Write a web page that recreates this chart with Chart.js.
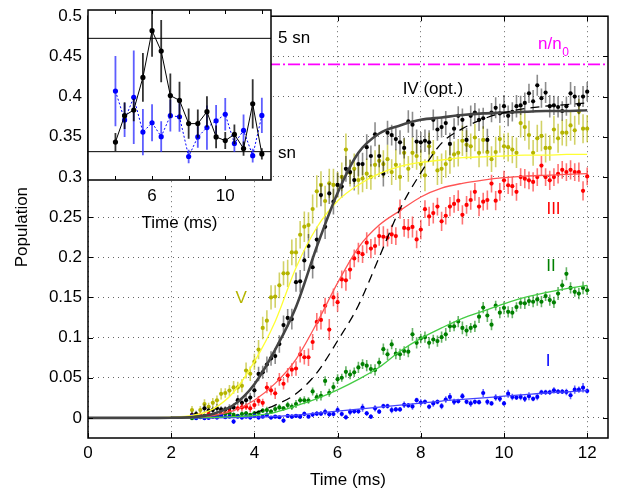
<!DOCTYPE html>
<html>
<head>
<meta charset="utf-8">
<script src="https://cdn.jsdelivr.net/npm/chart.js@4.4.1/dist/chart.umd.min.js"></script>
<style>
  html, body { margin: 0; padding: 0; background: #fff; }
  #wrap { position: relative; width: 628px; height: 492px; }
  #main { position: absolute; left: 0; top: 0; }
  #inset { position: absolute; left: 0; top: 0; pointer-events: none; }
</style>
</head>
<body>
<div id="wrap">
  <canvas id="main" width="628" height="492"></canvas>
  <canvas id="inset" width="340" height="240"></canvas>
</div>
<script>
// ---------- sampling times (ms) ----------
const times = [
  2.5,2.6,2.7,2.8,2.9,3.0,3.1,3.2,3.3,3.4,
  3.5,3.6,3.7,3.8,3.9,4.0,4.1,4.2,4.3,4.4,
  4.5,4.6,4.7,4.8,4.9,5.0,5.1,5.2,5.3,5.4,
  5.5,5.6,5.7,5.8,5.9,6.0,6.1,6.2,6.3,6.4,
  6.5,6.6,6.7,6.8,6.9,7.0,7.1,7.2,7.3,7.4,
  7.5,7.6,7.7,7.8,7.9,8.0,8.1,8.2,8.3,8.4,
  8.5,8.6,8.7,8.8,8.9,9.0,9.1,9.2,9.3,9.4,
  9.5,9.6,9.7,9.8,9.9,10.0,10.1,10.2,10.3,10.4,
  10.5,10.6,10.7,10.8,10.9,11.0,11.1,11.2,11.3,11.4,
  11.5,11.6,11.7,11.8,11.9,12.0
];

// ---------- measured populations ----------
const popI = [
  0.0025,-0.0003,0.0016,-0.0003,0.0000,0.0016,0.0004,0.0025,0.0008,0.0016,
  -0.0045,0.0016,0.0004,0.0016,0.0004,0.0025,0.0004,0.0016,0.0037,0.0004,
  0.0016,0.0008,-0.0033,0.0025,0.0016,0.0025,0.0016,0.0050,0.0016,0.0042,
  0.0053,0.0053,0.0074,0.0045,0.0049,0.0098,0.0049,0.0008,0.0074,0.0082,
  0.0082,0.0127,0.0057,0.0016,0.0119,0.0078,0.0147,0.0147,0.0098,0.0106,
  0.0106,0.0164,0.0155,0.0143,0.0221,0.0192,0.0200,0.0139,0.0180,0.0200,
  0.0147,0.0229,0.0261,0.0200,0.0208,0.0270,0.0200,0.0180,0.0200,0.0196,
  0.0310,0.0200,0.0180,0.0253,0.0237,0.0180,0.0302,0.0261,0.0253,0.0261,
  0.0237,0.0270,0.0237,0.0261,0.0319,0.0319,0.0319,0.0343,0.0327,0.0327,
  0.0323,0.0282,0.0352,0.0352,0.0376,0.0335
];
const errI = [
  0.002,0.002,0.002,0.002,0.002,0.002,0.002,0.002,0.002,0.002,
  0.003,0.002,0.002,0.002,0.002,0.003,0.002,0.002,0.003,0.002,
  0.002,0.002,0.003,0.002,0.003,0.002,0.003,0.003,0.002,0.003,
  0.003,0.003,0.004,0.003,0.003,0.004,0.003,0.003,0.004,0.003,
  0.003,0.005,0.003,0.003,0.004,0.003,0.003,0.003,0.004,0.003,
  0.003,0.004,0.003,0.004,0.003,0.004,0.003,0.003,0.004,0.003,
  0.004,0.004,0.005,0.004,0.003,0.004,0.003,0.004,0.003,0.003,
  0.005,0.004,0.003,0.004,0.004,0.003,0.005,0.004,0.003,0.004,
  0.004,0.005,0.003,0.004,0.003,0.003,0.003,0.004,0.003,0.003,
  0.004,0.005,0.005,0.004,0.006,0.003
];

const popII = [
  -0.0004,0.0016,0.0008,0.0025,0.0016,0.0037,0.0016,0.0037,0.0049,0.0057,
  0.0037,0.0025,0.0049,0.0057,0.0037,0.0057,0.0065,0.0090,0.0098,0.0078,
  0.0111,0.0131,0.0119,0.0160,0.0139,0.0172,0.0220,0.0220,0.0216,0.0330,
  0.0258,0.0276,0.0460,0.0312,0.0384,0.0482,0.0500,0.0574,0.0540,0.0568,
  0.0629,0.0670,0.0650,0.0609,0.0597,0.0690,0.0855,0.0792,0.0915,0.0800,
  0.0792,0.0833,0.0825,0.1040,0.0935,0.0989,0.1005,0.0935,0.0976,0.0956,
  0.1005,0.1040,0.1140,0.1140,0.1200,0.1120,0.1087,0.1120,0.1140,0.1260,
  0.1373,0.1275,0.1160,0.1397,0.1310,0.1370,0.1320,0.1310,0.1380,0.1430,
  0.1426,0.1454,0.1446,0.1475,0.1446,0.1516,0.1467,0.1438,0.1548,0.1650,
  0.1794,0.1618,0.1569,0.1548,0.1618,0.1589
];
const errII = [
  0.002,0.002,0.002,0.002,0.002,0.002,0.002,0.002,0.003,0.002,
  0.003,0.002,0.003,0.003,0.002,0.003,0.003,0.003,0.004,0.003,
  0.004,0.004,0.003,0.004,0.004,0.005,0.004,0.005,0.004,0.005,
  0.005,0.006,0.006,0.005,0.006,0.006,0.005,0.007,0.006,0.006,
  0.007,0.006,0.007,0.006,0.007,0.006,0.007,0.007,0.006,0.007,
  0.007,0.006,0.007,0.008,0.007,0.006,0.007,0.007,0.006,0.007,
  0.007,0.008,0.007,0.006,0.007,0.008,0.007,0.006,0.007,0.008,
  0.007,0.008,0.007,0.006,0.007,0.008,0.007,0.007,0.006,0.007,
  0.007,0.006,0.007,0.008,0.007,0.006,0.007,0.007,0.008,0.007,
  0.008,0.007,0.006,0.007,0.008,0.006
];

const popIII = [
  0.0025,0.0016,0.0037,0.0025,0.0049,0.0016,0.0025,0.0049,0.0057,0.0078,
  0.0025,0.0119,0.0131,0.0139,0.0119,0.0160,0.0212,0.0188,0.0378,0.0343,
  0.0306,0.0480,0.0425,0.0530,0.0600,0.0615,0.0790,0.0755,0.0755,0.0945,
  0.1195,0.1220,0.1395,0.1100,0.1500,0.1440,0.1724,0.1712,0.1846,0.1985,
  0.2059,0.2038,0.2181,0.2108,0.2140,0.2263,0.2255,0.2243,0.2284,0.2263,
  0.2600,0.2365,0.2357,0.2377,0.2222,0.2345,0.2598,0.2508,0.2549,0.2630,
  0.2447,0.2516,0.2630,0.2663,0.2704,0.2528,0.2651,0.2712,0.2814,0.2630,
  0.2692,0.2712,0.2917,0.2704,0.2814,0.2957,0.2896,0.2884,0.2814,0.2998,
  0.2978,0.2957,0.2937,0.2998,0.3141,0.2998,0.2957,0.2998,0.3039,0.3088,
  0.3060,0.3088,0.3060,0.3060,0.2827,0.3006
];
const errIII = [
  0.003,0.002,0.003,0.003,0.003,0.002,0.003,0.003,0.003,0.004,
  0.003,0.004,0.005,0.004,0.005,0.005,0.006,0.005,0.007,0.006,
  0.007,0.008,0.007,0.009,0.008,0.009,0.010,0.009,0.011,0.010,
  0.011,0.012,0.010,0.013,0.011,0.012,0.011,0.013,0.012,0.011,
  0.012,0.011,0.013,0.012,0.011,0.012,0.013,0.011,0.012,0.011,
  0.012,0.011,0.012,0.013,0.011,0.012,0.011,0.012,0.013,0.011,
  0.012,0.011,0.012,0.011,0.013,0.012,0.011,0.012,0.011,0.012,
  0.011,0.012,0.011,0.012,0.011,0.012,0.011,0.012,0.011,0.011,
  0.012,0.011,0.012,0.011,0.012,0.011,0.012,0.011,0.012,0.011,
  0.011,0.012,0.011,0.012,0.012,0.011
];

const popIV = [
  0.0037,0.0049,0.0025,0.0119,0.0090,0.0098,0.0119,0.0106,0.0106,0.0119,
  0.0131,0.0221,0.0188,0.0221,0.0253,0.0343,0.0547,0.0568,0.0665,0.0740,
  0.0770,0.0920,0.1155,0.1245,0.1230,0.1690,0.1700,0.1960,0.2140,0.1875,
  0.2220,0.2774,0.2378,0.2794,0.2692,0.2900,0.2880,0.3100,0.3060,0.2960,
  0.3160,0.3160,0.3370,0.3260,0.3530,0.3260,0.3040,0.3550,0.3520,0.3470,
  0.3430,0.3360,0.3690,0.3650,0.3440,0.3430,0.3450,0.3430,0.3710,0.3590,
  0.3620,0.3670,0.3410,0.3600,0.3760,0.3710,0.3460,0.3760,0.3800,0.3710,
  0.3730,0.3460,0.3800,0.3860,0.3790,0.3880,0.3760,0.3810,0.3880,0.3890,
  0.3920,0.4040,0.3940,0.4140,0.3980,0.4050,0.3880,0.3890,0.3870,0.3820,
  0.3880,0.4040,0.4000,0.3900,0.4000,0.4060
];
const errIV = [
  0.004,0.004,0.003,0.005,0.004,0.004,0.005,0.004,0.004,0.005,
  0.005,0.006,0.006,0.007,0.006,0.008,0.009,0.008,0.010,0.009,
  0.010,0.011,0.012,0.011,0.013,0.012,0.014,0.013,0.015,0.014,
  0.016,0.014,0.015,0.013,0.016,0.015,0.014,0.016,0.015,0.013,
  0.015,0.014,0.016,0.013,0.015,0.014,0.016,0.015,0.013,0.014,
  0.015,0.013,0.014,0.016,0.015,0.013,0.014,0.015,0.013,0.014,
  0.013,0.015,0.014,0.013,0.012,0.014,0.015,0.013,0.012,0.014,
  0.013,0.014,0.012,0.013,0.012,0.014,0.013,0.012,0.014,0.012,
  0.013,0.012,0.014,0.013,0.012,0.013,0.014,0.012,0.013,0.012,
  0.012,0.014,0.013,0.012,0.013,0.012
];

const popV = [
  0.0098,0.0040,0.0098,0.0172,0.0139,0.0188,0.0220,0.0300,0.0310,0.0340,
  0.0380,0.0380,0.0400,0.0590,0.0550,0.0700,0.0850,0.1120,0.1210,0.1500,
  0.1510,0.1650,0.1800,0.1800,0.2060,0.2060,0.2280,0.2380,0.2400,0.2600,
  0.2820,0.2900,0.2700,0.2920,0.2900,0.2900,0.3000,0.3340,0.3050,0.3100,
  0.2960,0.2980,0.3040,0.3000,0.3150,0.3200,0.3160,0.3220,0.3060,0.3150,
  0.3000,0.3300,0.3100,0.3300,0.3260,0.3160,0.3020,0.3380,0.3300,0.3080,
  0.3100,0.3160,0.3220,0.3280,0.3300,0.3450,0.3400,0.3380,0.3490,0.3300,
  0.3460,0.3310,0.3220,0.3310,0.3470,0.3380,0.3370,0.3340,0.3300,0.3670,
  0.3620,0.3520,0.3300,0.3480,0.3510,0.3360,0.3360,0.3590,0.3480,0.3550,
  0.3550,0.3640,0.3580,0.3810,0.3600,0.3600
];
const errV = [
  0.005,0.004,0.005,0.006,0.005,0.006,0.006,0.007,0.006,0.007,
  0.008,0.007,0.008,0.010,0.009,0.010,0.012,0.014,0.013,0.015,
  0.014,0.016,0.015,0.017,0.016,0.018,0.017,0.019,0.016,0.018,
  0.020,0.017,0.019,0.018,0.020,0.016,0.018,0.020,0.017,0.019,
  0.018,0.017,0.019,0.016,0.018,0.020,0.017,0.018,0.016,0.019,
  0.017,0.018,0.016,0.019,0.017,0.018,0.020,0.017,0.016,0.018,
  0.019,0.017,0.018,0.016,0.017,0.019,0.018,0.016,0.017,0.018,
  0.017,0.018,0.016,0.019,0.017,0.016,0.018,0.017,0.019,0.018,
  0.017,0.018,0.016,0.017,0.019,0.018,0.016,0.017,0.018,0.016,
  0.017,0.019,0.018,0.016,0.018,0.017
];

// ---------- model curves ----------
const fitTimes = [0,0.5,1,1.5,2,2.5,3,3.5,4,4.5,5,5.5,6,6.5,7,7.5,8,8.5,9,9.5,10,10.5,11,11.5,12];
const fitI   = [0,0,0,0,0,0,0,0.0005,0.001,0.002,0.0035,0.006,0.0085,0.011,0.0135,0.016,0.0185,0.021,0.023,0.025,0.027,0.029,0.031,0.0325,0.034];
const fitII  = [0,0,0,0,0,0.0002,0.0005,0.0015,0.003,0.007,0.015,0.024,0.035,0.048,0.063,0.083,0.099,0.112,0.124,0.133,0.142,0.150,0.156,0.161,0.165];
const fitIII = [0,0,0,0,0.0002,0.0008,0.003,0.009,0.022,0.043,0.073,0.118,0.168,0.212,0.240,0.258,0.275,0.286,0.292,0.296,0.299,0.301,0.302,0.303,0.304];
const fitIV  = [0,0,0,0,0.0003,0.001,0.005,0.016,0.042,0.085,0.138,0.213,0.280,0.330,0.354,0.364,0.371,0.374,0.377,0.379,0.380,0.381,0.382,0.382,0.383];
const fitV   = [0,0,0,0.0002,0.0008,0.003,0.011,0.032,0.070,0.120,0.187,0.237,0.270,0.290,0.304,0.313,0.318,0.321,0.324,0.325,0.326,0.327,0.327,0.328,0.328];

// optimal-control prediction (dashed)
const optTimes = [4,4.5,5,5.5,6,6.5,7,7.5,8,8.5,9,9.5,10,10.5,11,11.5,12];
const optPop   = [0.006,0.016,0.030,0.056,0.096,0.140,0.200,0.260,0.305,0.342,0.360,0.372,0.380,0.385,0.388,0.390,0.392];

// reference density level n/n0
const nRatioLevel = 0.44;

// ---------- inset: fluctuations in units of shot noise ----------
const insetTimes    = [4,4.5,5,5.5,6,6.5,7,7.5,8,8.5,9,9.5,10,10.5,11,11.5,12];
const insetIV       = [1.34,2.27,2.47,3.62,5.27,4.55,2.98,2.81,1.99,1.99,2.41,1.52,1.39,1.61,1.11,2.69,0.92];
const insetIVErr    = [0.32,0.47,0.40,0.86,0.92,1.10,0.78,0.66,0.53,0.50,0.55,0.40,0.30,0.35,0.25,0.87,0.20];
const insetI        = [3.14,2.12,2.92,1.69,2.02,1.53,2.27,2.23,0.83,1.52,1.85,2.09,2.32,1.29,1.75,0.86,2.28];
const insetIErr     = [1.24,0.60,1.65,0.82,0.65,0.54,0.56,0.53,0.24,0.38,0.78,0.56,0.57,0.30,0.56,0.24,0.62];
const snLevels      = [5, 1];
const snLabels      = ['5 sn', 'sn'];

// ---------- axis ticks ----------
const xTicks = [0,2,4,6,8,10,12];
const yTicks = [0,0.05,0.1,0.15,0.2,0.25,0.3,0.35,0.4,0.45,0.5];
const insetXTicks = [4,6,8,10,12];
const insetXLabeled = [6,10];

// ---------- curve labels ----------
const curveLabels = [
  { text: 'IV (opt.)', x: 8.29, y: 0.409, color: '#000000' },
  { text: 'V',   x: 3.68,  y: 0.149,  color: '#b4b400' },
  { text: 'III', x: 11.19, y: 0.260,  color: '#ff0000' },
  { text: 'II',  x: 11.13, y: 0.189,  color: '#008000' },
  { text: 'I',   x: 11.06, y: 0.070,  color: '#0000ff' }
];

const FONT = "'Liberation Sans', Arial, Helvetica, sans-serif";
Chart.defaults.font.family = FONT;
Chart.defaults.font.size = 17;
Chart.defaults.color = '#000';
Chart.defaults.animation = false;

const pts = (xs, ys) => xs.map((x, i) => ({ x: x, y: ys[i] }));

// vertical error bars, drawn just beneath their own dataset
const errorBars = {
  id: 'errorBars',
  beforeDatasetDraw(chart, args) {
    const ds = chart.data.datasets[args.index];
    if (!ds.errors) return;
    const xs = chart.scales.x, ys = chart.scales.y, a = chart.chartArea, ctx = chart.ctx;
    ctx.save();
    ctx.beginPath();
    ctx.rect(a.left, a.top, a.right - a.left, a.bottom - a.top);
    ctx.clip();
    ctx.strokeStyle = ds.errorColor;
    ctx.lineWidth = ds.errorWidth || 1.5;
    ctx.beginPath();
    ds.data.forEach((p, i) => {
      const px = xs.getPixelForValue(p.x);
      ctx.moveTo(px, ys.getPixelForValue(p.y - ds.errors[i]));
      ctx.lineTo(px, ys.getPixelForValue(p.y + ds.errors[i]));
    });
    ctx.stroke();
    ctx.restore();
  }
};

// frame with inward tick marks on all sides
const frame = {
  id: 'frame',
  afterDraw(chart, args, opts) {
    const a = chart.chartArea, ctx = chart.ctx, L = opts.tick || 5;
    ctx.save();
    ctx.setLineDash([]);
    ctx.strokeStyle = '#000';
    ctx.lineWidth = 1;
    ctx.beginPath();
    if (chart.scales.x && opts.xTicks !== false) {
      chart.scales.x.ticks.forEach(t => {
        const px = Math.round(chart.scales.x.getPixelForValue(t.value)) + 0.5;
        ctx.moveTo(px, a.bottom); ctx.lineTo(px, a.bottom - L);
        ctx.moveTo(px, a.top); ctx.lineTo(px, a.top + L);
      });
    }
    if (chart.scales.y && opts.yTicks !== false) {
      chart.scales.y.ticks.forEach(t => {
        const py = Math.round(chart.scales.y.getPixelForValue(t.value)) + 0.5;
        ctx.moveTo(a.left, py); ctx.lineTo(a.left + L, py);
        ctx.moveTo(a.right, py); ctx.lineTo(a.right - L, py);
      });
    }
    ctx.stroke();
    ctx.lineWidth = opts.width || 1.5;
    ctx.strokeRect(a.left, a.top, a.right - a.left, a.bottom - a.top);
    ctx.restore();
  }
};

// text labels placed in data coordinates
const curveText = {
  id: 'curveText',
  afterDatasetsDraw(chart) {
    const xs = chart.scales.x, ys = chart.scales.y, ctx = chart.ctx;
    ctx.save();
    ctx.font = '17px ' + FONT;
    ctx.textAlign = 'center';
    ctx.textBaseline = 'middle';
    curveLabels.forEach(l => {
      ctx.fillStyle = l.color;
      ctx.fillText(l.text, xs.getPixelForValue(l.x), ys.getPixelForValue(l.y));
    });
    // n/n0 with subscript
    const px = xs.getPixelForValue(10.82), py = ys.getPixelForValue(0.4645);
    ctx.fillStyle = '#ff00ff';
    ctx.textAlign = 'left';
    ctx.fillText('n/n', px, py);
    const w = ctx.measureText('n/n').width;
    ctx.font = '12px ' + FONT;
    ctx.fillText('0', px + w + 0.5, py + 8);
    ctx.restore();
  }
};

const dataSet = (label, ys, errs, color, errColor) => ({
  label, data: pts(times, ys), errors: errs, errorColor: errColor, errorWidth: 1.6,
  showLine: false, pointRadius: 2.1, pointHoverRadius: 2.1, pointBorderWidth: 0,
  pointBackgroundColor: color, borderColor: color
});
const fitSet = (label, ys, color, width) => ({
  label, data: pts(fitTimes, ys), showLine: true, pointRadius: 0,
  borderColor: color, borderWidth: width, cubicInterpolationMode: 'monotone', fill: false
});

new Chart(document.getElementById('main'), {
  type: 'scatter',
  data: {
    datasets: [
      { label: 'n/n0', data: [{ x: 0, y: nRatioLevel }, { x: 12.5, y: nRatioLevel }], showLine: true,
        pointRadius: 0, borderColor: '#ff00ff', borderWidth: 1.6, borderDash: [12, 3, 2, 3] },
      { label: 'IV opt', data: pts(optTimes, optPop), showLine: true, pointRadius: 0,
        borderColor: '#000', borderWidth: 1.3, borderDash: [9, 6], cubicInterpolationMode: 'monotone' },
      fitSet('IV fit', fitIV, '#444444', 2.6),
      fitSet('V fit', fitV, '#ffff33', 1.3),
      fitSet('III fit', fitIII, '#ff5555', 1.3),
      fitSet('II fit', fitII, '#44cc44', 1.3),
      fitSet('I fit', fitI, '#4444ff', 1.3),
      dataSet('I', popI, errI, '#0000ff', 'rgba(0,0,255,0.6)'),
      dataSet('II', popII, errII, '#008000', 'rgba(0,128,0,0.6)'),
      dataSet('III', popIII, errIII, '#ff0000', 'rgba(255,0,0,0.55)'),
      dataSet('IV', popIV, errIV, '#000000', 'rgba(0,0,0,0.45)'),
      dataSet('V', popV, errV, '#b4b400', 'rgba(180,180,0,0.6)')
    ]
  },
  options: {
    responsive: false,
    animation: false,
    events: [],
    layout: { padding: { left: 0, top: 10, right: 20, bottom: 0 } },
    plugins: { legend: { display: false }, tooltip: { enabled: false }, frame: { tick: 5, width: 1.5 } },
    scales: {
      x: {
        type: 'linear', min: 0, max: 12.5,
        afterBuildTicks: s => { s.ticks = xTicks.map(v => ({ value: v })); },
        afterFit: s => { s.height = 54; },
        ticks: { padding: 5, maxRotation: 0, autoSkip: false, color: '#000', callback: v => String(v) },
        grid: { color: 'rgba(0,0,0,0.6)', lineWidth: 1, drawTicks: false },
        border: { display: false, dash: [1, 4] },
        title: { display: true, text: 'Time (ms)', color: '#000', padding: { top: 0, bottom: 1 } }
      },
      y: {
        type: 'linear', min: -0.025, max: 0.5,
        afterBuildTicks: s => { s.ticks = yTicks.map(v => ({ value: v })); },
        afterFit: s => { s.width = 88; },
        ticks: { padding: 6, autoSkip: false, color: '#000', callback: v => String(Math.round(v * 100) / 100) },
        grid: { color: 'rgba(0,0,0,0.6)', lineWidth: 1, drawTicks: false },
        border: { display: false, dash: [1, 4] },
        title: { display: true, text: 'Population', color: '#000', padding: { top: 12, bottom: 0 } }
      }
    }
  },
  plugins: [errorBars, curveText, frame]
});

// ---------- inset ----------
const insetBackground = {
  id: 'insetBackground',
  beforeDraw(chart) {
    const a = chart.chartArea, ctx = chart.ctx;
    ctx.save();
    ctx.fillStyle = '#fff';
    ctx.fillRect(a.left, a.top, a.right - a.left, a.bottom - a.top);
    ctx.restore();
  },
  afterDraw(chart) {
    const a = chart.chartArea, ctx = chart.ctx, ys = chart.scales.y;
    ctx.save();
    ctx.font = '17px ' + FONT;
    ctx.fillStyle = '#000';
    ctx.textBaseline = 'middle';
    snLevels.forEach((v, i) => ctx.fillText(snLabels[i], a.right + 7, ys.getPixelForValue(v) + (i ? 2 : 0)));
    ctx.restore();
  }
};

const insetSet = (label, ys, errs, color, errColor, dash) => ({
  label, data: pts(insetTimes, ys), errors: errs, errorColor: errColor, errorWidth: 1.8,
  showLine: true, borderColor: color, borderWidth: 1, borderDash: dash,
  pointRadius: 2.6, pointBorderWidth: 0, pointBackgroundColor: color
});

new Chart(document.getElementById('inset'), {
  type: 'scatter',
  data: {
    datasets: [
      insetSet('IV', insetIV, insetIVErr, '#000000', 'rgba(0,0,0,0.8)', []),
      insetSet('I', insetI, insetIErr, '#0000ff', 'rgba(40,40,255,0.75)', [2, 2]),
      ...snLevels.map(v => ({ label: 'level', data: [{ x: 2.5, y: v }, { x: 12.5, y: v }], showLine: true,
        pointRadius: 0, borderColor: '#000', borderWidth: 1 }))
    ]
  },
  options: {
    responsive: false,
    animation: false,
    events: [],
    layout: { padding: { left: 88, top: 10, right: 69, bottom: 6 } },
    plugins: { legend: { display: false }, tooltip: { enabled: false }, frame: { tick: 4, width: 1.5, yTicks: false } },
    scales: {
      x: {
        type: 'linear', min: 2.5, max: 12.5,
        afterBuildTicks: s => { s.ticks = insetXTicks.map(v => ({ value: v })); },
        afterFit: s => { s.height = 54; },
        ticks: { padding: 6, maxRotation: 0, autoSkip: false, color: '#000',
                 callback: v => insetXLabeled.includes(v) ? String(v) : '' },
        grid: { display: false, drawTicks: false },
        border: { display: false },
        title: { display: true, text: 'Time (ms)', color: '#000', padding: { top: 0, bottom: 0 } }
      },
      y: { type: 'linear', min: 0, max: 6, display: false }
    }
  },
  plugins: [insetBackground, errorBars, frame]
});
</script>
</body>
</html>
